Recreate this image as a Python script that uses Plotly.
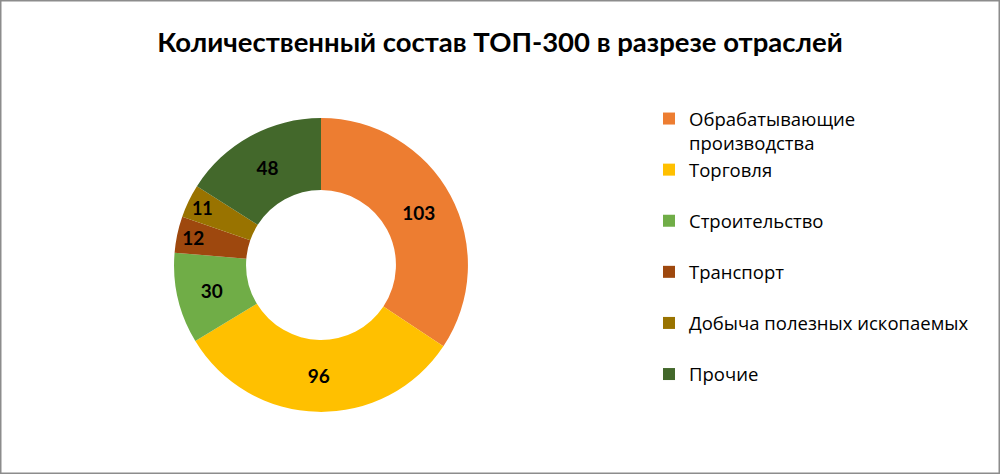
import plotly.graph_objects as go

# Количественный состав ТОП-300 по отраслям
labels = [
    "Обрабатывающие<br>производства",
    "Торговля<br> ",
    "Строительство<br> ",
    "Транспорт<br> ",
    "Добыча полезных ископаемых<br> ",
    "Прочие<br> ",
]
values = [103, 96, 30, 12, 11, 48]
colors = ["#ED7D31", "#FFC000", "#70AD47", "#9E480E", "#997300", "#43682B"]

fig = go.Figure(go.Pie(
    labels=labels,
    values=values,
    hole=0.51,
    sort=False,
    direction="clockwise",
    rotation=0,
    marker=dict(colors=colors, line=dict(width=0)),
    textinfo="value",
    textposition="inside",
    insidetextorientation="horizontal",
    textfont=dict(family="Lato", size=19, color="black", weight="bold"),
    domain=dict(x=[0.174, 0.468], y=[0.131, 0.751]),
))

fig.update_layout(
    width=1000,
    height=474,
    margin=dict(l=0, r=0, t=0, b=0),
    paper_bgcolor="white",
    font=dict(family="Lato", color="black"),
    title=dict(
        text="<b>Количественный состав ТОП-300 в разрезе отраслей</b>",
        x=0.5, xanchor="center", y=0.91, yanchor="middle",
        font=dict(size=27.5, color="black"),
    ),
    legend=dict(
        x=0.649, xanchor="left", y=0.789, yanchor="top",
        valign="top",
        font=dict(family="Open Sans", size=18.5),
        itemwidth=30,
    ),
    shapes=[dict(
        type="rect", xref="paper", yref="paper",
        x0=0, x1=1, y0=0, y1=1,
        line=dict(color="#8c8c8c", width=3),
    )],
)

fig.write_html(
    "out.html",
    config={"displayModeBar": False},
    post_script="document.body.style.margin='0';",
)
